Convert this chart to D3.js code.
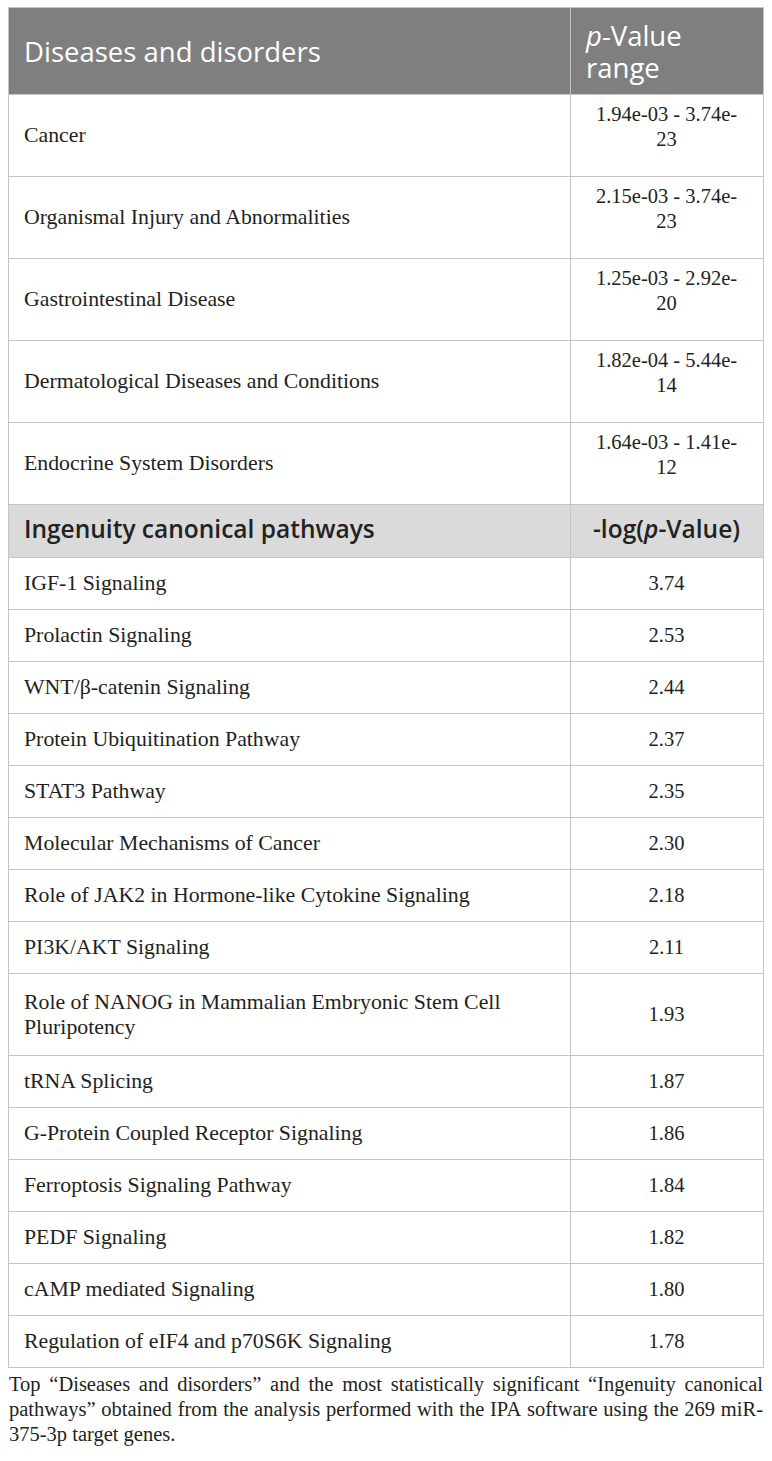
<!DOCTYPE html>
<html>
<head>
<meta charset="utf-8">
<script src="https://cdn.jsdelivr.net/npm/d3@7"></script>
<style>
  body { margin: 0; background: #fff; }
</style>
</head>
<body>
<svg id="chart" width="772" height="1461"></svg>
<script>
// table contents
const diseases = [
  "Cancer",
  "Organismal Injury and Abnormalities",
  "Gastrointestinal Disease",
  "Dermatological Diseases and Conditions",
  "Endocrine System Disorders"
];
const pLow  = ["1.94e-03", "2.15e-03", "1.25e-03", "1.82e-04", "1.64e-03"];
const pHigh = ["3.74e-23", "3.74e-23", "2.92e-20", "5.44e-14", "1.41e-12"];

const pathways = [
  "IGF-1 Signaling",
  "Prolactin Signaling",
  "WNT/β-catenin Signaling",
  "Protein Ubiquitination Pathway",
  "STAT3 Pathway",
  "Molecular Mechanisms of Cancer",
  "Role of JAK2 in Hormone-like Cytokine Signaling",
  "PI3K/AKT Signaling",
  "Role of NANOG in Mammalian Embryonic Stem Cell Pluripotency",
  "tRNA Splicing",
  "G-Protein Coupled Receptor Signaling",
  "Ferroptosis Signaling Pathway",
  "PEDF Signaling",
  "cAMP mediated Signaling",
  "Regulation of eIF4 and p70S6K Signaling"
];
const negLogP = [3.74, 2.53, 2.44, 2.37, 2.35, 2.30, 2.18, 2.11, 1.93, 1.87, 1.86, 1.84, 1.82, 1.80, 1.78];

const headers1 = ["Diseases and disorders", "p-Value range"];
const headers2 = ["Ingenuity canonical pathways", "-log(p-Value)"];

const caption = "Top \u201CDiseases and disorders\u201D and the most statistically significant \u201CIngenuity canonical pathways\u201D obtained from the analysis performed with the IPA software using the 269 miR-375-3p target genes.";

// layout
const X0 = 8, X1 = 570, X2 = 763, PAD = 16, TOP = 7;
const serif = "'Liberation Serif', 'Times New Roman', serif";
const sans = "'Open Sans', 'Noto Sans', sans-serif";
const lineColor = "#c4c4c4";

const styles = {
  head1: { font: sans, size: 27.5, weight: 400, fill: "#fff", bg: "#7f7f7f", lh: 32, base: 55, step: 32, dy: 11.5 },
  head2: { font: sans, size: 24.5, weight: 600, fill: "#222", bg: "#dadada", lh: 30, base: 53, step: 30, dy: 7.5 },
  body:  { font: serif, size: 21.8, weight: 400, fill: "#231f20", bg: "#fff", lh: 25, base: 52, step: 30, dy: 7 },
  value: { font: serif, size: 20.5, weight: 400, fill: "#231f20", bg: "#fff", lh: 25, base: 52, step: 30, dy: 7 }
};

const svg = d3.select("#chart");
const fmt = d3.format(".2f");

var probe = svg.append("text").attr("visibility", "hidden");
function textWidth(str, st) {
  probe.attr("font-family", st.font).attr("font-size", st.size).attr("font-weight", st.weight).text(str);
  return probe.node().getComputedTextLength();
}

// greedy wrap, breaking after spaces and hyphens
function wrap(str, maxW, st) {
  const segs = str.match(/[^ \-]*[ \-]|[^ \-]+$/g);
  const lines = [];
  let line = "";
  segs.forEach(s => {
    const test = line + s;
    if (line && textWidth(test.trimEnd(), st) > maxW) {
      lines.push(line.trimEnd());
      line = s;
    } else {
      line = test;
    }
  });
  if (line.trim()) lines.push(line.trimEnd());
  return lines;
}

const rows = [];
rows.push({ kind: "head1", cells: [
  { text: headers1[0], align: "left" },
  { text: headers1[1], align: "left" }
]});
diseases.forEach((d, i) => rows.push({ kind: "body", cells: [
  { text: d, align: "left" },
  { text: pLow[i] + " - " + pHigh[i], align: "center", st: "value", shift: -9 }
]}));
rows.push({ kind: "head2", cells: [
  { text: headers2[0], align: "left" },
  { text: headers2[1], align: "center" }
]});
pathways.forEach((p, i) => rows.push({ kind: "body", cells: [
  { text: p, align: "left" },
  { text: fmt(negLogP[i]), align: "center", st: "value" }
]}));

const cols = [[X0, X1], [X1, X2]];

// measure and position rows
let y = TOP;
rows.forEach(r => {
  const st = styles[r.kind];
  r.cells.forEach((c, j) => {
    c.style = styles[c.st || r.kind];
    c.lines = wrap(c.text, cols[j][1] - cols[j][0] - 2 * PAD, c.style);
  });
  const n = d3.max(r.cells, c => c.lines.length);
  r.y = y;
  r.h = st.base + (n - 1) * st.step;
  y += r.h;
});
const bottom = y;

// cell backgrounds
const g = svg.append("g");
rows.forEach(r => {
  g.append("rect")
    .attr("x", X0).attr("y", r.y)
    .attr("width", X2 - X0).attr("height", r.h)
    .attr("fill", styles[r.kind].bg);
});

// text with italic p in "p-Value"
function addLine(el, str) {
  str.split(/(p(?=-Value))/).forEach(part => {
    if (!part) return;
    const t = el.append("tspan").text(part);
    if (part === "p") t.attr("font-style", "italic");
  });
}

rows.forEach(r => {
  const cy = r.y + r.h / 2;
  r.cells.forEach((c, j) => {
    const st = c.style;
    const n = c.lines.length;
    const x = c.align === "center" ? (cols[j][0] + cols[j][1]) / 2 : cols[j][0] + PAD;
    const shift = n > 1 && c.shift ? c.shift : 0;
    const t = g.append("text")
      .attr("text-anchor", c.align === "center" ? "middle" : "start")
      .attr("font-family", st.font)
      .attr("font-size", st.size)
      .attr("font-weight", st.weight)
      .attr("fill", st.fill);
    c.lines.forEach((ln, k) => {
      const line = t.append("tspan")
        .attr("x", x)
        .attr("y", cy + (k - (n - 1) / 2) * st.lh + st.dy + shift);
      addLine(line, ln);
    });
  });
});

// grid lines
const lines = svg.append("g").attr("stroke", lineColor).attr("stroke-width", 1);
rows.forEach(r => {
  lines.append("line").attr("x1", X0).attr("x2", X2).attr("y1", r.y + 0.5).attr("y2", r.y + 0.5);
});
lines.append("line").attr("x1", X0).attr("x2", X2).attr("y1", bottom + 0.5).attr("y2", bottom + 0.5);
[X0, X1, X2].forEach(x => {
  lines.append("line").attr("x1", x + 0.5).attr("x2", x + 0.5).attr("y1", TOP).attr("y2", bottom + 1);
});

// caption, justified
const capStyle = { font: serif, size: 20.5, weight: 400 };
const capX0 = 9, capX1 = 763, capLh = 25;
const capLines = wrap(caption, capX1 - capX0, capStyle);
const cap = svg.append("g")
  .attr("font-family", serif).attr("font-size", capStyle.size).attr("fill", "#231f20");
capLines.forEach((ln, k) => {
  const yy = bottom + 24 + k * capLh;
  const words = ln.split(" ");
  if (k === capLines.length - 1 || words.length < 2) {
    cap.append("text").attr("x", capX0).attr("y", yy).text(ln);
    return;
  }
  const widths = words.map(w => textWidth(w, capStyle));
  const gap = (capX1 - capX0 - d3.sum(widths)) / (words.length - 1);
  let xx = capX0;
  words.forEach((w, i) => {
    cap.append("text").attr("x", xx).attr("y", yy).text(w);
    xx += widths[i] + gap;
  });
});

probe.remove();
</script>
</body>
</html>
